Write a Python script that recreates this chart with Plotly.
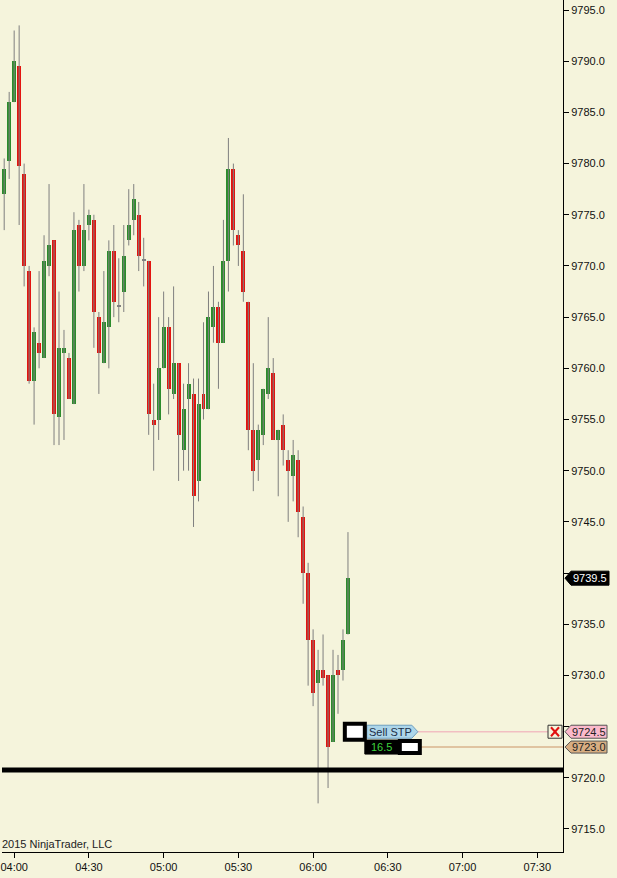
import pandas as pd
import plotly.graph_objects as go

# ---------------- data (2-minute bars) ----------------
times = pd.date_range("2015-06-01 03:56", periods=70, freq="2min")

opens = [9777.0, 9780.25, 9786.0, 9789.5, 9779.0, 9769.5, 9758.75, 9762.5, 9761.0, 9770.0,
         9772.5, 9755.25, 9761.5, 9761.0, 9756.5, 9774.0, 9770.0, 9774.0, 9774.5, 9765.0,
         9760.5, 9764.0, 9771.5, 9766.0, 9767.5, 9772.5, 9774.5, 9775.0, 9770.5, 9770.5,
         9755.0, 9755.0, 9760.0, 9764.0, 9757.5, 9760.5, 9752.0, 9757.0, 9757.5, 9749.0,
         9757.5, 9756.0, 9764.0, 9766.0, 9762.5, 9770.5, 9779.5, 9773.0, 9771.5, 9766.5,
         9754.0, 9751.0, 9753.5, 9757.5, 9759.5, 9753.0, 9754.5, 9751.0, 9749.5, 9751.0,
         9745.5, 9740.0, 9733.5, 9729.25, 9730.5, 9730.0, 9723.5, 9730.5, 9730.5, 9734.0]
highs = [9780.5, 9787.0, 9793.0, 9793.5, 9780.0, 9770.0, 9764.0, 9769.5, 9773.0, 9778.0,
         9772.5, 9767.5, 9763.75, 9761.5, 9775.25, 9774.5, 9778.0, 9775.5, 9775.0, 9765.5,
         9769.5, 9772.5, 9774.0, 9770.75, 9774.0, 9777.5, 9778.0, 9776.25, 9772.75, 9770.5,
         9758.5, 9765.0, 9767.5, 9765.0, 9768.0, 9760.5, 9758.5, 9760.5, 9759.0, 9759.0,
         9764.5, 9767.5, 9770.0, 9766.5, 9774.5, 9782.5, 9780.0, 9773.5, 9777.0, 9766.5,
         9760.5, 9754.5, 9758.0, 9765.0, 9761.0, 9754.0, 9755.5, 9752.0, 9753.0, 9752.0,
         9746.5, 9741.0, 9734.5, 9732.5, 9734.0, 9730.0, 9732.5, 9732.0, 9734.5, 9744.0]
lows = [9773.5, 9778.5, 9786.0, 9774.0, 9768.0, 9758.5, 9754.5, 9760.0, 9761.0, 9769.0,
        9752.5, 9752.5, 9753.0, 9757.0, 9756.5, 9767.5, 9769.5, 9772.5, 9762.0, 9757.5,
        9760.5, 9760.0, 9765.0, 9764.5, 9765.5, 9772.0, 9773.0, 9769.5, 9768.0, 9753.5,
        9750.0, 9753.0, 9760.0, 9755.5, 9757.0, 9749.0, 9750.0, 9750.0, 9744.5, 9747.0,
        9755.0, 9756.0, 9762.5, 9758.0, 9762.5, 9767.5, 9772.0, 9770.0, 9766.5, 9752.0,
        9748.0, 9749.0, 9752.5, 9757.0, 9753.0, 9747.5, 9750.5, 9745.0, 9747.0, 9743.5,
        9737.0, 9729.0, 9727.0, 9717.5, 9729.0, 9719.0, 9723.5, 9726.25, 9729.5, 9734.0]
closes = [9779.5, 9786.0, 9790.0, 9779.75, 9770.0, 9758.75, 9763.5, 9761.5, 9770.5, 9772.0,
          9755.5, 9762.0, 9762.0, 9757.0, 9773.5, 9770.0, 9773.5, 9775.0, 9765.5, 9761.5,
          9764.5, 9771.5, 9766.5, 9766.0, 9771.0, 9774.0, 9776.5, 9771.0, 9770.5, 9755.5,
          9754.5, 9760.0, 9764.0, 9758.0, 9760.5, 9753.5, 9756.0, 9758.5, 9747.5, 9756.5,
          9756.0, 9765.0, 9766.0, 9762.5, 9770.5, 9779.5, 9773.5, 9772.0, 9767.5, 9754.0,
          9750.0, 9754.0, 9758.0, 9760.0, 9753.0, 9754.0, 9752.0, 9750.0, 9751.5, 9746.0,
          9740.0, 9733.5, 9728.25, 9730.5, 9729.75, 9723.0, 9730.0, 9730.0, 9733.5, 9739.5]

last_price = closes[-1]
stop_price = 9724.5
stop_label = "Sell STP"
target_price = 9723.0
pnl_text = "16.5"
level_price = 9720.75
copyright_text = "2015 NinjaTrader, LLC"
y_ticks = [9715.0 + 5 * i for i in range(17)]
hidden_tick_labels = [9725.0, 9740.0]   # covered by the price tags in the reference
x_ticks = pd.date_range("2015-06-01 04:00", "2015-06-01 07:30", freq="30min")

# ---------------- styles ----------------
BG = "#F5F4DC"
UP = "#2C8C2C"
DOWN = "#E3140F"
DOJI = "#808080"
WICK = "#7F7F7F"
FONT = "Liberation Sans, Arial, sans-serif"

fig = go.Figure()

# wicks
wx, wy = [], []
for t, h, l in zip(times, highs, lows):
    wx += [t, t, None]
    wy += [l, h, None]
fig.add_trace(go.Scatter(x=wx, y=wy, mode="lines", line=dict(color=WICK, width=1),
                         hoverinfo="skip", showlegend=False))

# bodies
bases = [min(o, c) for o, c in zip(opens, closes)]
heights = [max(abs(c - o), 0.1) for o, c in zip(opens, closes)]
colors = [UP if c > o else (DOWN if c < o else DOJI) for o, c in zip(opens, closes)]
fig.add_trace(go.Bar(x=times, y=heights, base=bases, width=96000,
                     marker=dict(color=colors, line=dict(width=0)),
                     showlegend=False, hoverinfo="skip"))

anchor_t = times[-1] + pd.Timedelta(seconds=165)

shapes = []
# thick horizontal level line
shapes.append(dict(type="line", xref="paper", x0=0, x1=1, yref="y", y0=level_price, y1=level_price,
                   line=dict(color="black", width=5), layer="above"))
# order lines
x_end = pd.Timestamp("2015-06-01 07:45")
shapes.append(dict(type="line", xref="x", x0=anchor_t + pd.Timedelta(minutes=5), x1=x_end,
                   yref="y", y0=stop_price, y1=stop_price,
                   line=dict(color="#F2BFC2", width=1.5), layer="above"))
shapes.append(dict(type="line", xref="x", x0=anchor_t + pd.Timedelta(minutes=10), x1=x_end,
                   yref="y", y0=target_price, y1=target_price,
                   line=dict(color="#D9B48E", width=1.5), layer="above"))


def pix_rect(xref, xanchor, x0, x1, yanchor, y0, y1, fill, line_color, lw):
    return dict(type="rect", xref=xref, xsizemode="pixel", xanchor=xanchor, x0=x0, x1=x1,
                yref="y", ysizemode="pixel", yanchor=yanchor, y0=y0, y1=y1,
                fillcolor=fill, line=dict(color=line_color, width=lw), layer="above")


def pix_path(xref, xanchor, yanchor, path, fill, line_color, lw):
    return dict(type="path", xref=xref, xsizemode="pixel", xanchor=xanchor,
                yref="y", ysizemode="pixel", yanchor=yanchor, path=path,
                fillcolor=fill, line=dict(color=line_color, width=lw), layer="above")


# Sell STP label (blue pentagon pointing right)
shapes.append(pix_path("x", anchor_t, stop_price, "M 12 -6.5 L 57 -6.5 L 63 0 L 57 6.5 L 12 6.5 Z",
                       "#ADD6EA", "#6E9FBF", 1))
# black-bordered white box for stop
shapes.append(pix_rect("x", anchor_t, -10, 10, stop_price, -8, 8, "white", "black", 4))
# 16.5 black box
shapes.append(pix_rect("x", anchor_t, 10, 44, target_price, -7, 7, "black", "black", 1))
# white box with black border for target
shapes.append(pix_rect("x", anchor_t, 45, 65, target_price, -6, 6, "white", "black", 4))

# right-axis price tags (pointing left)
shapes.append(pix_path("paper", 1, last_price, "M 2 0 L 8 -7 L 46 -7 L 46 7 L 8 7 Z", "black", "black", 1))
shapes.append(pix_path("paper", 1, stop_price, "M 2 0 L 8 -6.5 L 44 -6.5 L 44 6.5 L 8 6.5 Z",
                       "#FBB9CB", "#555555", 1))
shapes.append(pix_path("paper", 1, target_price, "M 2 0 L 8 -6 L 44 -6 L 44 6 L 8 6 Z",
                       "#D8AE82", "#555555", 1))
# close-order X box
shapes.append(pix_rect("paper", 1, -15, -1, stop_price, -6.5, 6.5, "#F5F4DC", "#333333", 1))
shapes.append(dict(type="line", xref="paper", xsizemode="pixel", xanchor=1, x0=-12, x1=-4,
                   yref="y", ysizemode="pixel", yanchor=stop_price, y0=-4.5, y1=4.5,
                   line=dict(color="#E01010", width=2), layer="above"))
shapes.append(dict(type="line", xref="paper", xsizemode="pixel", xanchor=1, x0=-12, x1=-4,
                   yref="y", ysizemode="pixel", yanchor=stop_price, y0=4.5, y1=-4.5,
                   line=dict(color="#E01010", width=2), layer="above"))

annotations = [
    dict(x=anchor_t, xref="x", y=stop_price, yref="y", text=stop_label, showarrow=False,
         xanchor="center", xshift=36, font=dict(family=FONT, size=11, color="#1C2E48")),
    dict(x=anchor_t, xref="x", y=target_price, yref="y", text=pnl_text, showarrow=False,
         xanchor="center", xshift=27, font=dict(family=FONT, size=11, color="#3CD23C")),
    dict(x=1, xref="paper", y=last_price, yref="y", text=f"{last_price:.1f}", showarrow=False,
         xanchor="left", xshift=8, font=dict(family=FONT, size=11, color="white")),
    dict(x=1, xref="paper", y=stop_price, yref="y", text=f"{stop_price:.1f}", showarrow=False,
         xanchor="left", xshift=7, font=dict(family=FONT, size=11, color="#222222")),
    dict(x=1, xref="paper", y=target_price, yref="y", text=f"{target_price:.1f}", showarrow=False,
         xanchor="left", xshift=7, font=dict(family=FONT, size=11, color="#222222")),
    dict(x=0, xref="paper", y=0, yref="paper", text=copyright_text, showarrow=False,
         xanchor="left", yanchor="bottom", xshift=-2, yshift=0,
         font=dict(family=FONT, size=11, color="#222222")),
]

fig.update_layout(
    width=617, height=878,
    margin=dict(l=0, r=54, t=0, b=26),
    paper_bgcolor=BG, plot_bgcolor=BG,
    barmode="overlay", bargap=0,
    showlegend=False,
    shapes=shapes, annotations=annotations,
    font=dict(family=FONT, size=11, color="#111111"),
    xaxis=dict(type="date",
               range=["2015-06-01 03:55:07", "2015-06-01 07:40:19"],
               tickvals=list(x_ticks), ticktext=[t.strftime("%H:%M") for t in x_ticks],
               ticks="outside", ticklen=5, tickcolor="black",
               ticklabeloverflow="allow",
               showline=True, linecolor="black", linewidth=1,
               showgrid=False, zeroline=False, fixedrange=True,
               tickfont=dict(family=FONT, size=11, color="#111111")),
    yaxis=dict(side="right", range=[9712.75, 9795.98],
               tickvals=y_ticks,
               ticktext=["" if v in hidden_tick_labels else f"{v:.1f}" for v in y_ticks],
               ticks="outside", ticklen=5, tickcolor="black",
               ticklabeloverflow="allow",
               showline=True, linecolor="black", linewidth=1,
               showgrid=False, zeroline=False, fixedrange=True,
               tickfont=dict(family=FONT, size=11, color="#111111")),
)

fig.write_html(
    "out.html",
    config={"displayModeBar": False},
    post_script="document.body.style.margin='0';document.body.style.overflow='hidden';",
)
